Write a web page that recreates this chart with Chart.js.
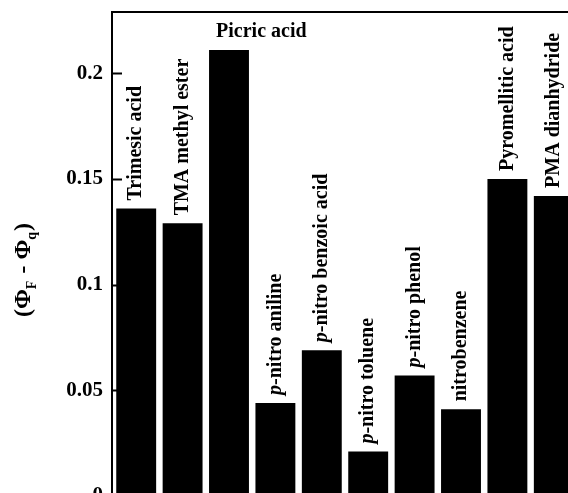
<!DOCTYPE html>
<html>
<head>
<meta charset="utf-8">
<script src="https://cdn.jsdelivr.net/npm/chart.js@4.4.0/dist/chart.umd.min.js"></script>
<style>
  html, body { margin: 0; padding: 0; background: #fff; overflow: hidden; }
  #wrap { width: 600px; height: 520px; }
</style>
</head>
<body>
<div id="wrap"><canvas id="quenchChart" width="600" height="520"></canvas></div>
<script>
// data
const compounds = ['Trimesic acid', 'TMA methyl ester', 'Picric acid', 'p-nitro aniline', 'p-nitro benzoic acid',
                   'p-nitro toluene', 'p-nitro phenol', 'nitrobenzene', 'Pyromellitic acid', 'PMA dianhydride'];
const phiDiff = [0.136, 0.129, 0.211, 0.044, 0.069, 0.021, 0.057, 0.041, 0.150, 0.142];
const flatLabels = ['Picric acid'];
const yTickValues = [0, 0.05, 0.1, 0.15, 0.2];
const yTickLabels = ['0', '0.05', '0.1', '0.15', '0.2'];

const serif = '"Liberation Serif", "Times New Roman", serif';
const boldFont = 'bold 20px ' + serif;
const italicFont = 'bold italic 20px ' + serif;

// nama senyawa di atas tiap batang
const barLabels = {
    id: 'barLabels',
    afterDatasetsDraw(chart) {
        const ctx = chart.ctx;
        const bars = chart.getDatasetMeta(0).data;
        ctx.save();
        ctx.fillStyle = '#000';
        bars.forEach((bar, i) => {
            const name = compounds[i];
            ctx.save();
            if (flatLabels.includes(name)) {
                ctx.translate(bar.x - bar.width / 2 + 7, bar.y - 13);
                ctx.textBaseline = 'alphabetic';
            } else {
                ctx.translate(bar.x, bar.y - 8);
                ctx.rotate(-Math.PI / 2);
                ctx.textBaseline = 'middle';
            }
            ctx.textAlign = 'left';
            let x = 0;
            let rest = name;
            if (name.startsWith('p-')) {
                ctx.font = italicFont;
                ctx.fillText('p', 0, 0);
                x = ctx.measureText('p').width;
                rest = name.slice(1);
            }
            ctx.font = boldFont;
            ctx.fillText(rest, x, 0);
            ctx.restore();
        });
        ctx.restore();
    }
};

// bingkai + tick ke dalam + judul sumbu Y
const frame = {
    id: 'frame',
    afterDraw(chart) {
        const ctx = chart.ctx;
        const a = chart.chartArea;
        const y = chart.scales.y;
        ctx.save();
        ctx.strokeStyle = '#000';
        ctx.lineWidth = 2;
        ctx.strokeRect(a.left - 1, a.top, a.right - a.left + 1, a.bottom - a.top);
        yTickValues.forEach(v => {
            const py = Math.round(y.getPixelForValue(v)) + 0.5;
            ctx.beginPath();
            ctx.moveTo(a.left, py);
            ctx.lineTo(a.left + 9, py);
            ctx.stroke();
        });

        // (Φ_F - Φ_q)
        const parts = [['(\u03A6', false], ['F', true], [' - \u03A6', false], ['q', true], [')', false]];
        const mainF = 'bold 24px ' + serif;
        const subF = 'bold 14px ' + serif;
        ctx.translate(24, 270);
        ctx.rotate(-Math.PI / 2);
        ctx.fillStyle = '#000';
        ctx.textBaseline = 'middle';
        ctx.textAlign = 'left';
        let total = 0;
        parts.forEach(([t, sub]) => { ctx.font = sub ? subF : mainF; total += ctx.measureText(t).width + (sub ? 1 : 0); });
        let x = -total / 2;
        parts.forEach(([t, sub]) => {
            ctx.font = sub ? subF : mainF;
            ctx.fillText(t, x, sub ? 8 : 0);
            x += ctx.measureText(t).width + (sub ? 1 : 0);
        });
        ctx.restore();
    }
};

const ctx = document.getElementById('quenchChart').getContext('2d');

new Chart(ctx, {
    type: 'bar',
    data: {
        labels: compounds,
        datasets: [{
            data: phiDiff,
            backgroundColor: '#000',
            borderWidth: 0,
            barPercentage: 0.86,
            categoryPercentage: 1
        }]
    },
    options: {
        responsive: false,
        animation: false,
        layout: { padding: { left: 0, top: 12, right: 23, bottom: 24 } },
        plugins: {
            legend: { display: false },
            tooltip: { enabled: false }
        },
        scales: {
            x: { display: false },
            y: {
                min: 0,
                max: 0.229,
                afterBuildTicks: s => { s.ticks = yTickValues.map(v => ({ value: v })); },
                afterFit: s => { s.width = 113; s.paddingTop = 0; s.paddingBottom = 0; },
                grid: { display: false, drawTicks: false },
                border: { display: false },
                ticks: {
                    padding: 10,
                    color: '#000',
                    font: { family: serif, weight: 'bold', size: 21 },
                    callback: (v, i) => yTickLabels[i]
                }
            }
        }
    },
    plugins: [barLabels, frame]
});
</script>
</body>
</html>
